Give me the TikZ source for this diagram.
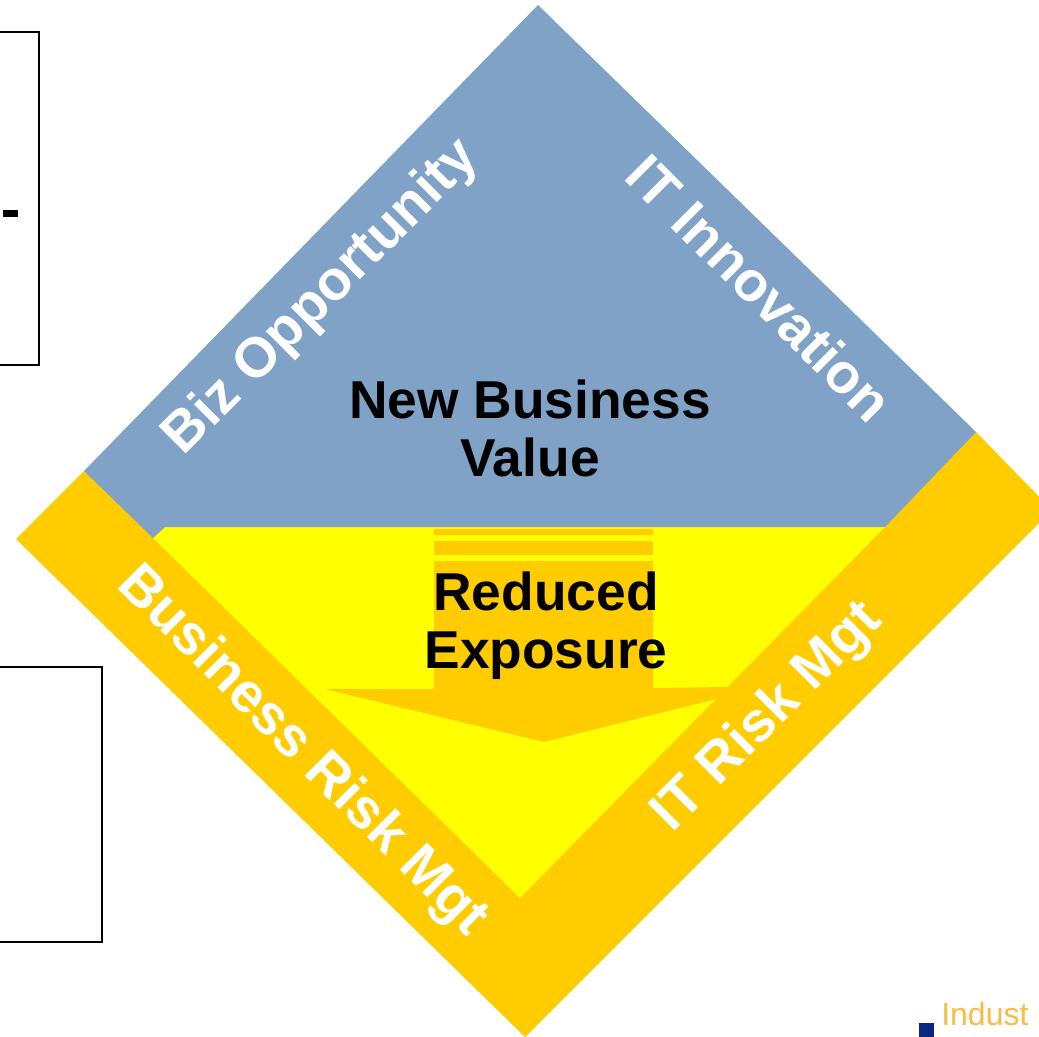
\documentclass[tikz,border=0pt]{standalone}
\usepackage{fontspec}
\setmainfont{Liberation Sans}
\definecolor{dblue}{RGB}{128,162,199}
\definecolor{dgold}{RGB}{255,204,0}
\definecolor{dyellow}{RGB}{255,255,0}
\definecolor{dnavy}{RGB}{10,40,130}
\definecolor{dlogo}{RGB}{245,190,70}
\tikzset{
  lbl/.style={font=\fontsize{40}{43.5}\selectfont\bfseries,align=center,inner sep=0pt,text=black},
  rot/.style={font=\fontsize{42}{46}\selectfont\bfseries,inner sep=0pt,text=white},
  frame/.style={draw=black,line width=1pt,fill=white}
}
\begin{document}
\begin{tikzpicture}[x=0.75pt,y=-0.75pt]
\useasboundingbox (0,0) rectangle (1039,1037);
\clip (0,0) rectangle (1039,1037);
\fill[white] (0,0) rectangle (1039,1037);
% side frames
\draw[frame] (-5,32) -- (39,32) -- (39,365) -- (-5,365);
\draw[frame] (-5,667) -- (102,667) -- (102,942) -- (-5,942);
\fill[black] (3,210) rectangle (18,217);
% diamond
\fill[dgold] (84,471) -- (16,539) -- (525,1037) -- (1052,510) -- (976,432) -- cycle;
\fill[dyellow] (165,527) -- (153,538) -- (520,898) -- (885,527) -- cycle;
\fill[dblue] (538,5) -- (976,432) -- (885,527) -- (165,527) -- (153,538) -- (84,471) -- cycle;
% arrow
\fill[dgold] (434,528.5) rectangle (653,534.5);
\fill[dgold] (434,541) rectangle (653,555);
\fill[dgold] (434,561) -- (653,561) -- (653,688) -- (728,687) -- (716,699) -- (544,742) -- (325,689) -- (434,689) -- cycle;
% labels
\node[lbl] (newvalue) at (530,428) {New Business\\Value};
\node[lbl] (reduced) at (546,626) {Reduced\\Exposure};
\node[rot,rotate=45] (biz) at (322,298) {Biz Opportunity};
\node[rot,rotate=-45] (itinno) at (760,288) {IT Innovation};
\node[rot,rotate=-45] (busrisk) at (302,752) {Business Risk Mgt};
\node[rot,rotate=45] (itrisk) at (768,718) {IT Risk Mgt};
% logo fragment
\node[anchor=base west,inner sep=0pt,text=dlogo,font=\fontsize{24}{26}\selectfont] (logo) at (941,1025) {Indust};
\fill[dnavy] (919,1023) rectangle (934,1037);
\fill[dnavy] (963,1037) arc (180:0:11 and 5) -- cycle;
\fill[dnavy] (992,1037) arc (180:0:11 and 5) -- cycle;
\fill[dnavy] (1020,1037) arc (180:0:11 and 5) -- cycle;
\end{tikzpicture}
\end{document}
